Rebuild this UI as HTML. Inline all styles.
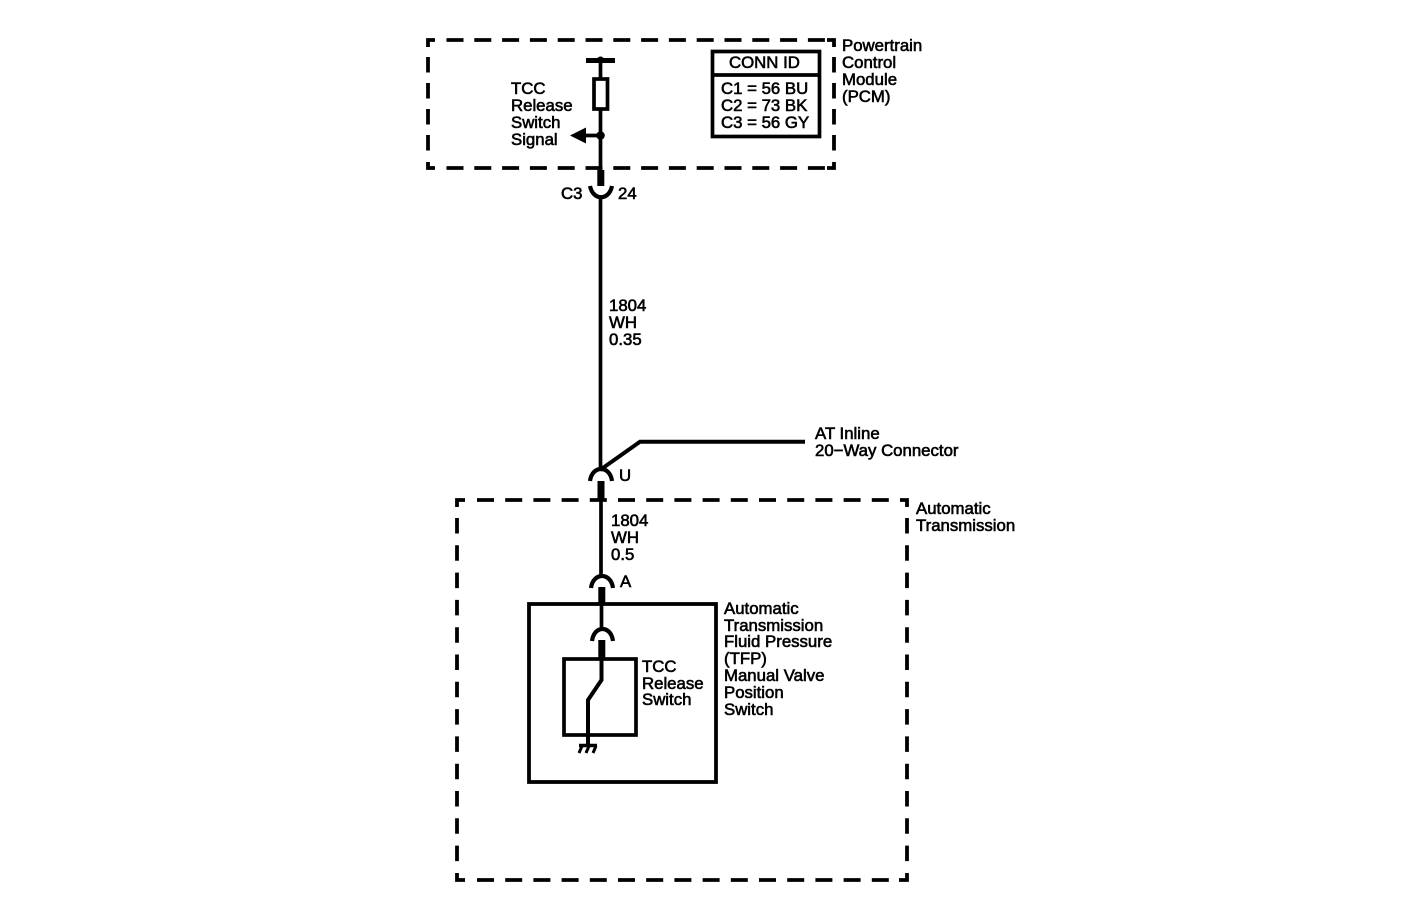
<!DOCTYPE html>
<html><head><meta charset="utf-8"><style>
html,body{margin:0;padding:0;background:#fff;width:1408px;height:920px;overflow:hidden}
svg{display:block}
text{font-family:"Liberation Sans",Arial,sans-serif;font-size:16.8px;fill:#000;stroke:#000;stroke-width:.6px}
</style></head><body>
<svg width="1408" height="920" viewBox="0 0 1408 920" xmlns="http://www.w3.org/2000/svg">
<g fill="none" stroke="#000">
<g stroke-width="3.800">
<!-- PCM dashed box -->
<path d="M446.500 40H826M446.500 168H826" stroke-dasharray="17 10.800"/>
<path d="M428 57V152M834 57V152" stroke-dasharray="15.500 10.500"/>
<path d="M435 40H428V47M428 162V168H435M827 40H834V47M834 162V168H827"/>
<!-- Transmission dashed box -->
<path d="M477 500H890M477 880H890" stroke-dasharray="17 11.200"/>
<path d="M457 518V864M907 518V864" stroke-dasharray="15.500 11.800"/>
<path d="M465 500H457V507M457 873V880H465M900 500H907V507M907 873V880H899"/>
<rect x="529" y="604" width="187" height="178"/>
</g>
<g stroke-width="3.700">
<rect x="712.500" y="51.500" width="107" height="85"/>
<path d="M712 75H820"/>
<rect x="564" y="659" width="72" height="76"/>
<path d="M586 60.500H615" stroke-width="5"/>
<path d="M600.500 58V78M600.500 109V171M600.500 198V470M601 500V576M601.500 604V630"/>
<rect x="594" y="79" width="13.500" height="30"/>
<path d="M584 135.500H601"/>
<path d="M590 186C593 201 609 201 612 186" stroke-width="4.200"/>
<path d="M590 481C592 465 610 465 612 481" stroke-width="4.200"/>
<path d="M591 588C593 572 611 572 613 588" stroke-width="4.200"/>
<path d="M592 641C594 625 611 625 613 641" stroke-width="4.200"/>
<path d="M600 470L640 441.700H805" stroke-width="4"/>
<path d="M601.500 658V680L588 700V746" stroke-width="4"/>
<path d="M579 745.500H597" stroke-width="3.500"/>
<path d="M582 746L579 753M589 746L586 753M596 746L593 753" stroke-width="3"/>
</g>
<g stroke-width="7">
<path d="M600.800 170V186M601 481V500M601.800 587V603M601.800 640V658"/>
</g>
</g>
<circle cx="600.500" cy="135.500" r="4.300"/>
<circle cx="600.500" cy="60" r="3.500"/>
<path d="M570 135.500L586 127.500V143.500Z"/>
<text x="511" y="94">TCC</text><text x="511" y="111">Release</text><text x="511" y="128">Switch</text><text x="511" y="145">Signal</text>
<text x="729" y="68">CONN ID</text>
<text x="721" y="94">C1 = 56 BU</text><text x="721" y="111">C2 = 73 BK</text><text x="721" y="128">C3 = 56 GY</text>
<text x="842" y="51">Powertrain</text><text x="842" y="68">Control</text><text x="842" y="85">Module</text><text x="842" y="102">(PCM)</text>
<text x="561" y="199">C3</text><text x="618" y="199">24</text>
<text x="609" y="311">1804</text><text x="609" y="328">WH</text><text x="609" y="345">0.35</text>
<text x="815" y="439">AT Inline</text><text x="815" y="456">20−Way Connector</text>
<text x="619" y="481">U</text>
<text x="916" y="514">Automatic</text><text x="916" y="531">Transmission</text>
<text x="611" y="526">1804</text><text x="611" y="543">WH</text><text x="611" y="560">0.5</text>
<text x="620" y="587">A</text>
<text x="724" y="614">Automatic</text><text x="724" y="631">Transmission</text><text x="724" y="647">Fluid Pressure</text><text x="724" y="664">(TFP)</text><text x="724" y="681">Manual Valve</text><text x="724" y="698">Position</text><text x="724" y="715">Switch</text>
<text x="642" y="672">TCC</text><text x="642" y="689">Release</text><text x="642" y="705">Switch</text>
</svg>
</body></html>
